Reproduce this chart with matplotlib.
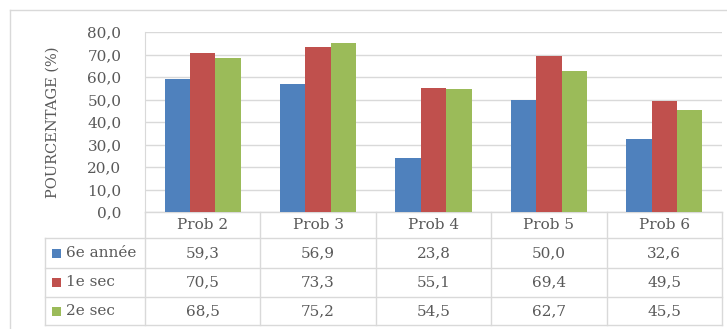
import matplotlib
matplotlib.use("Agg")
import matplotlib.pyplot as plt
from matplotlib.patches import Rectangle
from matplotlib.lines import Line2D
import numpy as np

categories = ["Prob 2", "Prob 3", "Prob 4", "Prob 5", "Prob 6"]
series_names = ["6e année", "1e sec", "2e sec"]
sixieme = [59.3, 56.9, 23.8, 50.0, 32.6]
premiere = [70.5, 73.3, 55.1, 69.4, 49.5]
deuxieme = [68.5, 75.2, 54.5, 62.7, 45.5]
y_ticks = [0, 10, 20, 30, 40, 50, 60, 70, 80]
colors = ["#4F81BD", "#C0504D", "#9BBB59"]

text_col = "#595959"
grid_col = "#D9D9D9"
font = "DejaVu Serif"

W, H = 727, 329
fig = plt.figure(figsize=(W / 100, H / 100), dpi=100)

# plot area in pixels
left, right, top, bottom = 145, 722, 32, 212
ax = fig.add_axes([left / W, 1 - bottom / H, (right - left) / W, (bottom - top) / H])

series = [sixieme, premiere, deuxieme]
x = np.arange(len(categories))
bw = 0.22
for i, (vals, c) in enumerate(zip(series, colors)):
    ax.bar(x + (i - 1) * bw, vals, width=bw, color=c, zorder=3)

ax.set_xlim(-0.5, len(categories) - 0.5)
ax.set_ylim(0, 80)
ax.set_yticks(y_ticks)
ax.set_yticklabels([f"{v:.1f}".replace(".", ",") for v in y_ticks],
                   fontsize=11, color=text_col, family=font)
ax.tick_params(axis="y", length=0, pad=17)
ax.set_xticks([])
ax.grid(axis="y", color=grid_col, linewidth=1, zorder=0)
for s in ["top", "right", "bottom"]:
    ax.spines[s].set_visible(False)
ax.spines["left"].set_color(grid_col)
ax.set_ylabel("POURCENTAGE (%)", fontsize=10.5, color=text_col, family=font, labelpad=20)

# data table below the plot, aligned with categories
ph = bottom - top
def yf(py):
    return (bottom - py) / ph * 80

rows_px = [212, 238, 268, 297, 325]
n = len(categories)
leg_left = -0.5 - (left - 45) / (right - left) * n
kw = dict(color=grid_col, linewidth=1, clip_on=False, transform=ax.transData)

def hline(x0, x1, py):
    ax.add_line(Line2D([x0, x1], [yf(py), yf(py)], **kw))

def vline(xx, py0, py1):
    ax.add_line(Line2D([xx, xx], [yf(py0), yf(py1)], **kw))

hline(-0.5, n - 0.5, rows_px[0])
for py in rows_px[1:]:
    hline(leg_left, n - 0.5, py)
for k in range(n + 1):
    vline(k - 0.5, rows_px[0], rows_px[-1])
vline(leg_left, rows_px[1], rows_px[-1])

def row_center_px(i):
    return (rows_px[i] + rows_px[i + 1]) / 2

for j, cat in enumerate(categories):
    ax.text(j, yf(row_center_px(0)), cat, ha="center", va="center", fontsize=11,
            color=text_col, family=font, clip_on=False)
for i, (name, vals, c) in enumerate(zip(series_names, series, colors)):
    cy = row_center_px(i + 1)
    for j, v in enumerate(vals):
        ax.text(j, yf(cy), f"{v:.1f}".replace(".", ","), ha="center", va="center",
                fontsize=11, color=text_col, family=font, clip_on=False)
    # legend key square
    fig.patches.append(Rectangle((52 / W, 1 - (cy + 4.5) / H), 9 / W, 9 / H,
                                 transform=fig.transFigure,
                                 facecolor=c, edgecolor="none"))
    fig.text(66 / W, 1 - cy / H, name, ha="left", va="center", fontsize=11,
             color=text_col, family=font)

# outer chart frame
fig.add_artist(Line2D([10 / W, 10 / W], [1 - 10 / H, 0], color=grid_col,
                      linewidth=1, transform=fig.transFigure))
fig.add_artist(Line2D([10 / W, 1], [1 - 10 / H, 1 - 10 / H], color=grid_col,
                      linewidth=1, transform=fig.transFigure))

fig.savefig("out.png", dpi=100, facecolor="white")
